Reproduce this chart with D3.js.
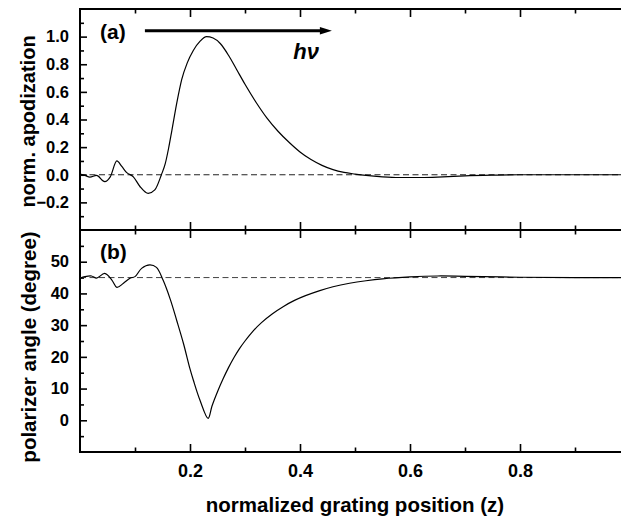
<!DOCTYPE html>
<html>
<head>
<meta charset="utf-8">
<script src="https://cdn.jsdelivr.net/npm/d3@7"></script>
<style>
  html, body { margin: 0; padding: 0; background: #fff; }
  svg { display: block; }
  text { font-family: "Liberation Sans", Arial, sans-serif; font-weight: bold; fill: #000; }
</style>
</head>
<body>
<svg id="chart" width="621" height="520"></svg>
<script>
// normalized grating position z
const zApod = [0, 0.009, 0.018, 0.03, 0.045, 0.055, 0.067, 0.076, 0.085, 0.097, 0.109, 0.124, 0.136, 0.148, 0.155, 0.161, 0.167, 0.176, 0.185, 0.195, 0.206, 0.218, 0.23, 0.242, 0.255, 0.27, 0.285, 0.3, 0.32, 0.34, 0.36, 0.38, 0.4, 0.42, 0.44, 0.46, 0.48, 0.5, 0.52, 0.55, 0.58, 0.62, 0.66, 0.7, 0.75, 0.8, 0.9, 1.0];
// normalized apodization profile, panel (a)
const apod = [0.005, -0.005, -0.017, -0.005, -0.05, -0.015, 0.10, 0.06, 0.015, -0.015, -0.085, -0.135, -0.11, 0.0, 0.08, 0.19, 0.32, 0.52, 0.69, 0.81, 0.9, 0.965, 1.0, 0.99, 0.95, 0.865, 0.76, 0.655, 0.525, 0.41, 0.315, 0.235, 0.165, 0.11, 0.068, 0.037, 0.017, 0.005, -0.005, -0.015, -0.02, -0.02, -0.015, -0.008, -0.003, 0, 0, 0];

const zAngle = [0, 0.009, 0.021, 0.03, 0.045, 0.058, 0.067, 0.079, 0.091, 0.1, 0.112, 0.127, 0.139, 0.151, 0.164, 0.176, 0.188, 0.2, 0.206, 0.218, 0.233, 0.24, 0.25, 0.26, 0.27, 0.28, 0.29, 0.3, 0.315, 0.33, 0.35, 0.37, 0.39, 0.41, 0.436, 0.46, 0.49, 0.52, 0.55, 0.6, 0.65, 0.7, 0.8, 0.9, 1.0];
// polarizer angle in degrees, panel (b)
const angle = [44.8, 45.3, 45.5, 44.8, 46.3, 44.2, 41.9, 43.2, 44.8, 45.3, 47.9, 49.0, 48.2, 44.2, 38.2, 31.4, 24.3, 16.2, 12.7, 6.4, 0.6, 4.5, 9.0, 13.0, 16.6, 19.8, 22.6, 25.0, 28.2, 30.8, 33.6, 35.9, 37.8, 39.3, 40.9, 42.1, 43.2, 44.0, 44.6, 45.2, 45.5, 45.4, 45.1, 45.0, 45.0];

// reference levels (dashed)
const apodRef = 0;
const angleRef = 45;

// ticks
const xMajor = [0.2, 0.4, 0.6, 0.8];
const xMinor = [0.1, 0.3, 0.5, 0.7, 0.9];
const apodMajor = [-0.2, 0.0, 0.2, 0.4, 0.6, 0.8, 1.0];
const apodMinor = [-0.3, -0.1, 0.1, 0.3, 0.5, 0.7, 0.9, 1.1];
const angleMajor = [0, 10, 20, 30, 40, 50];
const angleMinor = [-5, 5, 15, 25, 35, 45, 55];

const svg = d3.select("#chart");
const L = 80, R = 630, T = 9, MID = 230, B = 452;

const x = d3.scaleLinear().domain([0, 1]).range([L, R]);
const yA = d3.scaleLinear().domain([-0.4, 1.2]).range([MID, T]);
const yB = d3.scaleLinear().domain([-10, 60]).range([B, MID]);

// clip regions for the two panels
const defs = svg.append("defs");
defs.append("clipPath").attr("id", "clipA").append("rect")
  .attr("x", L).attr("y", T).attr("width", R - L).attr("height", MID - T);
defs.append("clipPath").attr("id", "clipB").append("rect")
  .attr("x", L).attr("y", MID).attr("width", R - L).attr("height", B - MID);

function tickAxis(axis, tx, ty) {
  const g = svg.append("g").attr("transform", `translate(${tx},${ty})`).call(axis);
  g.select(".domain").remove();
  g.selectAll(".tick line").attr("stroke", "#000").attr("stroke-width", 1.6);
  g.selectAll(".tick text").remove();
  return g;
}

// x ticks (inward) on top edge, shared middle edge, and bottom edge
tickAxis(d3.axisBottom(x).tickValues(xMajor).tickSize(8), 0, T);
tickAxis(d3.axisBottom(x).tickValues(xMinor).tickSize(4.5), 0, T);
tickAxis(d3.axisTop(x).tickValues(xMajor).tickSize(8), 0, MID);
tickAxis(d3.axisTop(x).tickValues(xMinor).tickSize(4.5), 0, MID);
tickAxis(d3.axisBottom(x).tickValues(xMajor).tickSize(8), 0, MID);
tickAxis(d3.axisBottom(x).tickValues(xMinor).tickSize(4.5), 0, MID);
tickAxis(d3.axisTop(x).tickValues(xMajor).tickSize(8), 0, B);
tickAxis(d3.axisTop(x).tickValues(xMinor).tickSize(4.5), 0, B);

// y ticks (inward) on left edges
tickAxis(d3.axisRight(yA).tickValues(apodMajor).tickSize(7), L, 0);
tickAxis(d3.axisRight(yA).tickValues(apodMinor).tickSize(4), L, 0);
tickAxis(d3.axisRight(yB).tickValues(angleMajor).tickSize(7), L, 0);
tickAxis(d3.axisRight(yB).tickValues(angleMinor).tickSize(4), L, 0);

// tick labels
function labelAxis(axis, tx, ty, size) {
  const g = svg.append("g").attr("transform", `translate(${tx},${ty})`).call(axis);
  g.select(".domain").remove();
  g.selectAll(".tick line").remove();
  g.selectAll(".tick text")
    .style("font-family", '"Liberation Sans", Arial, sans-serif')
    .style("font-weight", "bold")
    .style("font-size", size + "px")
    .attr("fill", "#000");
  return g;
}
labelAxis(d3.axisLeft(yA).tickValues(apodMajor).tickSize(0).tickPadding(11).tickFormat(d3.format(".1f")), L, 0, 16.5);
labelAxis(d3.axisLeft(yB).tickValues(angleMajor).tickSize(0).tickPadding(11).tickFormat(d3.format("d")), L, 0, 16.5);
labelAxis(d3.axisBottom(x).tickValues(xMajor).tickSize(0).tickPadding(12).tickFormat(d3.format(".1f")), 0, B, 18);

// frame lines
const frame = svg.append("g").attr("stroke", "#000").attr("stroke-width", 2).attr("fill", "none");
[T, MID, B].forEach(yy => frame.append("line").attr("x1", L - 1).attr("x2", R).attr("y1", yy).attr("y2", yy));
frame.append("line").attr("x1", L).attr("x2", L).attr("y1", T - 1).attr("y2", B + 1);

// dashed reference lines
svg.append("line").attr("x1", L).attr("x2", R)
  .attr("y1", yA(apodRef)).attr("y2", yA(apodRef))
  .attr("stroke", "#222").attr("stroke-width", 1).attr("stroke-dasharray", "6,3.5");
svg.append("line").attr("x1", L).attr("x2", R)
  .attr("y1", yB(angleRef)).attr("y2", yB(angleRef))
  .attr("stroke", "#444").attr("stroke-width", 1).attr("stroke-dasharray", "6,3.5");

// curves
const lineA = d3.line().x((d, i) => x(zApod[i])).y(d => yA(d)).curve(d3.curveMonotoneX);
const lineB = d3.line().x((d, i) => x(zAngle[i])).y(d => yB(d)).curve(d3.curveCatmullRom.alpha(0.5));
svg.append("path").attr("clip-path", "url(#clipA)").attr("d", lineA(apod))
  .attr("fill", "none").attr("stroke", "#000").attr("stroke-width", 1.2);
svg.append("path").attr("clip-path", "url(#clipB)").attr("d", lineB(angle))
  .attr("fill", "none").attr("stroke", "#000").attr("stroke-width", 1.2);

// panel letters
svg.append("text").attr("x", L + 20).attr("y", 39).style("font-size", "21px").text("(a)");
svg.append("text").attr("x", L + 20).attr("y", 259).style("font-size", "21px").text("(b)");

// photon direction arrow
const ay = yA(1.043);
const ax0 = x(0.118), ax1 = x(0.458);
svg.append("line").attr("x1", ax0).attr("x2", ax1 - 10).attr("y1", ay).attr("y2", ay)
  .attr("stroke", "#000").attr("stroke-width", 3);
svg.append("path")
  .attr("d", `M${ax1},${ay} L${ax1 - 12},${ay - 3.8} L${ax1 - 12},${ay + 3.8} Z`)
  .attr("fill", "#000");
svg.append("text").attr("x", x(0.411)).attr("y", 59).attr("text-anchor", "middle")
  .style("font-size", "22px").style("font-style", "italic").text("hν");

// axis titles
svg.append("text").attr("transform", `translate(28,${(T + MID) / 2 + 2}) rotate(-90)`)
  .attr("text-anchor", "middle").attr("dominant-baseline", "central")
  .style("font-size", "20px").text("norm. apodization");
svg.append("text").attr("transform", `translate(28,${(MID + B) / 2 + 6}) rotate(-90)`)
  .attr("text-anchor", "middle").attr("dominant-baseline", "central")
  .style("font-size", "20.5px").text("polarizer angle (degree)");
svg.append("text").attr("x", 355).attr("y", 512).attr("text-anchor", "middle")
  .style("font-size", "20.5px").text("normalized grating position (z)");
</script>
</body>
</html>
